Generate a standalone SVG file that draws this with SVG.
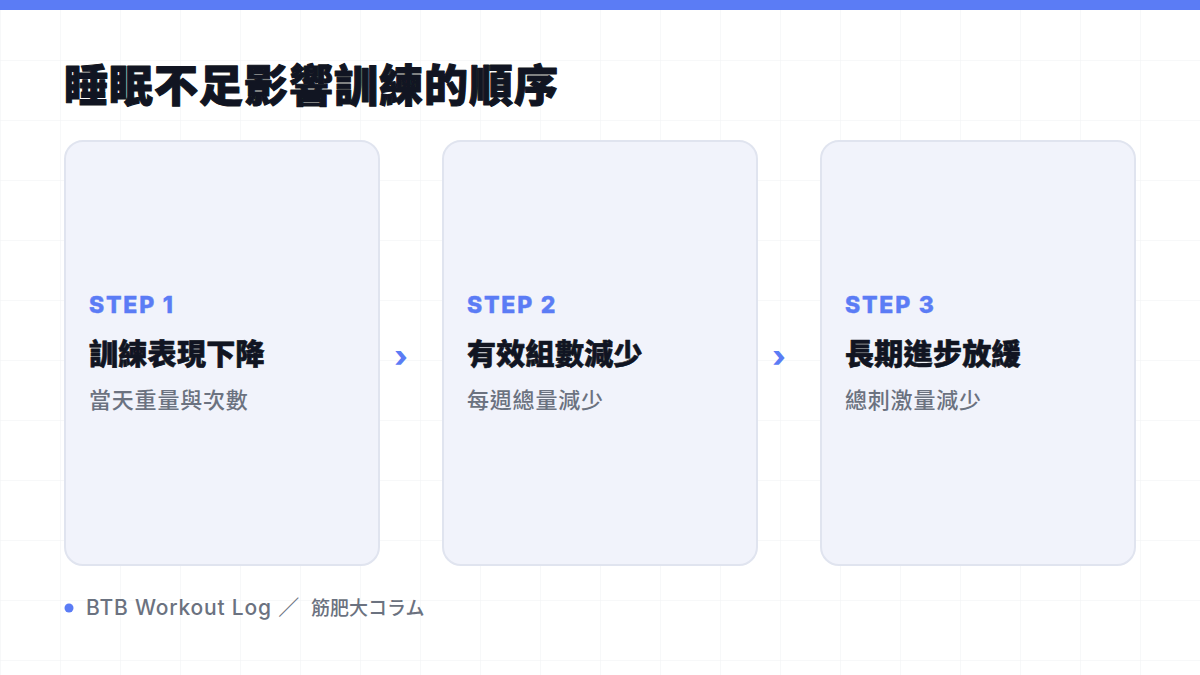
<svg xmlns="http://www.w3.org/2000/svg" width="1200" height="675" viewBox="0 0 1200 675">
  <defs>
    <pattern id="grid" width="60" height="60" patternUnits="userSpaceOnUse">
      <path d="M60 0 L0 0 0 60" fill="none" stroke="#f0f1f4" stroke-width="1"/>
    </pattern>
    <style>
      .f { font-family: Inter, "Noto Sans CJK TC", "Noto Sans CJK JP", sans-serif; }
      .card { fill: #f1f3fb; stroke: #e0e4ef; stroke-width: 2; }
      .step { font-size: 23px; font-weight: 800; fill: #5b7cf5; stroke: #5b7cf5; stroke-width: 0.4px; letter-spacing: 1.8px; }
      .title { font-size: 29px; font-weight: 800; fill: #111522; stroke: #111522; stroke-width: 0.6px; stroke-linejoin: round; letter-spacing: 0.3px; }
      .sub { font-size: 22px; font-weight: 500; fill: #6b7280; letter-spacing: 0.8px; }
      .chev { font-size: 30px; font-weight: 800; fill: #5b7cf5; }
    </style>
  </defs>
  <rect x="0" y="0" width="1200" height="675" fill="#ffffff"/>
  <rect x="0" y="0" width="1200" height="675" fill="url(#grid)"/>
  <rect x="0" y="0" width="1200" height="10" fill="#5b7cf5"/>

  <g id="heading">
    <text class="f" x="64" y="102" font-size="44" font-weight="900" fill="#111522" stroke="#111522" stroke-width="1.1" stroke-linejoin="round" letter-spacing="1">睡眠不足影響訓練的順序</text>
  </g>

  <g id="step1">
    <rect class="card" x="65" y="141" width="314" height="424" rx="18"/>
    <text class="f step" x="89" y="313">STEP 1</text>
    <text class="f title" x="89" y="365">訓練表現下降</text>
    <text class="f sub" x="89" y="408">當天重量與次數</text>
  </g>

  <g id="step2">
    <rect class="card" x="443" y="141" width="314" height="424" rx="18"/>
    <text class="f step" x="467" y="313">STEP 2</text>
    <text class="f title" x="467" y="365">有效組數減少</text>
    <text class="f sub" x="467" y="408">每週總量減少</text>
  </g>

  <g id="step3">
    <rect class="card" x="821" y="141" width="314" height="424" rx="18"/>
    <text class="f step" x="845" y="313">STEP 3</text>
    <text class="f title" x="845" y="365">長期進步放緩</text>
    <text class="f sub" x="845" y="408">總刺激量減少</text>
  </g>

  <g id="connectors">
    <text class="f chev" x="401" y="367" text-anchor="middle">›</text>
    <text class="f chev" x="779" y="367" text-anchor="middle">›</text>
  </g>

  <g id="footer">
    <circle cx="69" cy="608" r="4.5" fill="#5b7cf5"/>
    <text class="f" x="86" y="615" font-size="21" font-weight="500" fill="#6b7280"><tspan letter-spacing="0.8">BTB Workout Log ／ </tspan><tspan x="311" font-size="19" letter-spacing="0">筋肥大コラム</tspan></text>
  </g>
</svg>
